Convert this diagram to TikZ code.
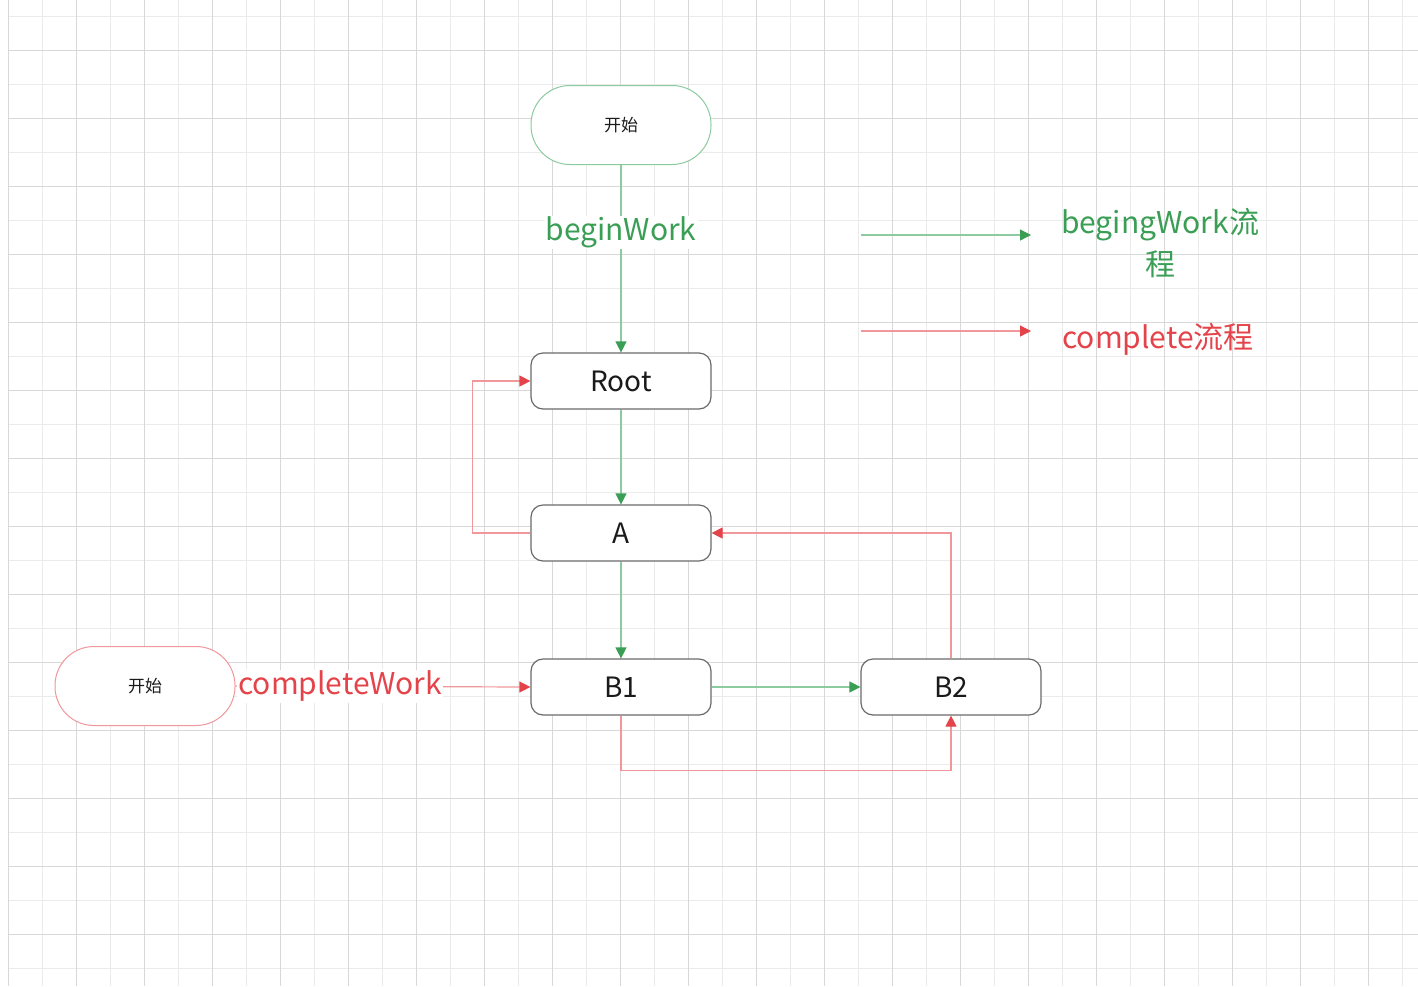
\documentclass[tikz,border=0pt]{standalone}
\usepackage{fontspec}
\setmainfont{Noto Sans CJK SC}
\usetikzlibrary{arrows.meta}
\definecolor{gridA}{HTML}{EBEBEB}
\definecolor{gridB}{HTML}{D8D8D8}
\definecolor{gline}{HTML}{8CCB9F}
\definecolor{ghead}{HTML}{3A9E55}
\definecolor{rline}{HTML}{F0979B}
\definecolor{rhead}{HTML}{E4434A}
\definecolor{boxb}{HTML}{6A6A6A}
\definecolor{txt}{HTML}{1A1A1A}
\tikzset{
  box/.style={draw=boxb,line width=1.2pt,rounded corners=12pt,minimum width=180pt,minimum height=56pt,fill=white,text=txt,inner sep=0pt,font=\fontsize{28}{32}\selectfont},
  startbox/.style={line width=1pt,rounded corners=39pt,minimum width=180pt,minimum height=79pt,fill=white,text=txt,inner sep=0pt,font=\fontsize{17}{19}\selectfont},
  gflow/.style={draw=gline,line width=1.2pt,-{Triangle[length=11pt,width=11pt,color=ghead]}},
  rflow/.style={draw=rline,line width=1.2pt,-{Triangle[length=11pt,width=11pt,color=rhead]}},
  glabel/.style={text=ghead,fill=white,inner sep=1pt,font=\fontsize{30}{40}\selectfont},
  rlabel/.style={text=rhead,fill=white,inner sep=1pt,font=\fontsize{30}{40}\selectfont},
}
\begin{document}
\begin{tikzpicture}[x=1pt,y=-1pt]
\useasboundingbox (0,0) rectangle (1418,986);
\fill[white] (0,0) rectangle (1418,986);
% grid
\foreach \i in {0,...,41} {\draw[gridA,line width=0.8pt] (8+34*\i,0) -- (8+34*\i,986);}
\foreach \i in {0,...,28} {\draw[gridA,line width=0.8pt] (8,16+34*\i) -- (1418,16+34*\i);}
\foreach \i in {0,...,20} {\draw[gridB,line width=0.8pt] (8+68*\i,0) -- (8+68*\i,986);}
\foreach \i in {0,...,13} {\draw[gridB,line width=0.8pt] (8,50+68*\i) -- (1418,50+68*\i);}
% nodes
\node[startbox,draw=gline] (s1) at (621,125) {开始};
\node[box] (root) at (621,381) {Root};
\node[box] (a) at (621,533) {A};
\node[box] (b1) at (621,687) {B1};
\node[box] (b2) at (951,687) {B2};
\node[startbox,draw=rline] (s2) at (145,686) {开始};
% green flow
\draw[gflow] (s1) -- node[glabel,pos=0.36] {beginWork} (root);
\draw[gflow] (root) -- (a);
\draw[gflow] (a) -- (b1);
\draw[gflow] (b1) -- (b2);
% red flow
\draw[rflow] (s2.east) -- node[rlabel,pos=0.355] {completeWork} (b1.west);
\draw[rflow] (a.west) -- ([xshift=-58pt]a.west) |- (root.west);
\draw[rflow] (b2.north) |- (a.east);
\draw[rflow] (b1.south) -- ([yshift=-55pt]b1.south) -| (b2.south);
% legend
\coordinate (lg1) at (861,235);
\coordinate (lg2) at (1031,235);
\coordinate (lr1) at (861,331);
\coordinate (lr2) at (1031,331);
\draw[gflow] (lg1) -- (lg2);
\draw[rflow] (lr1) -- (lr2);
\node[text=ghead,align=center,inner sep=0pt,font=\fontsize{30}{42}\selectfont] (lgt) at (1160,243) {begingWork流\\程};
\node[text=rhead,inner sep=0pt,font=\fontsize{30}{40}\selectfont] (lrt) at (1158,339) {complete流程};
\end{tikzpicture}
\end{document}
